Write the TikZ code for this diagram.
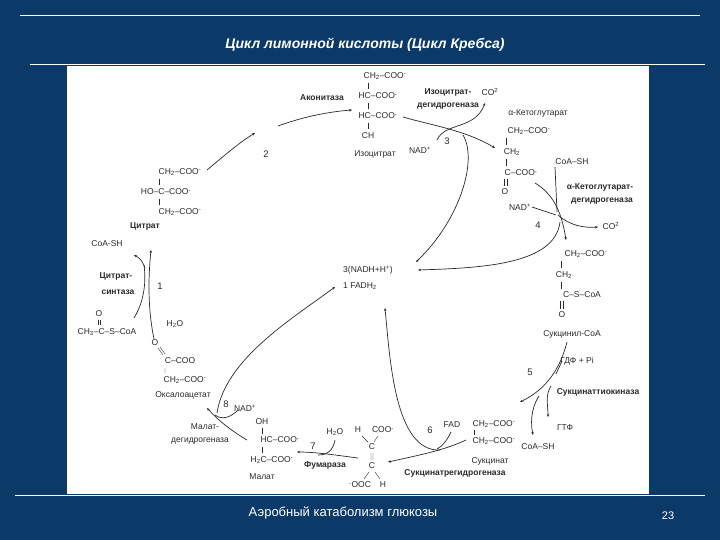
\documentclass[tikz,border=0pt]{standalone}
\usepackage{fontspec}
\setmainfont{Liberation Sans}
\usetikzlibrary{arrows.meta}
\definecolor{bg}{HTML}{0B3A68}
\definecolor{ink}{HTML}{2A2A2A}
\newcommand{\lo}[1]{\textsubscript{#1}}
\newcommand{\hi}[1]{\textsuperscript{#1}}
\tikzset{
  ch/.style={font=\fontsize{8.5}{9}\selectfont, text=ink, inner sep=0pt},
  en/.style={font=\fontsize{8.5}{9}\selectfont\bfseries, text=ink, inner sep=0pt},
  num/.style={font=\fontsize{9.5}{10}\selectfont, text=ink, inner sep=0pt},
  rx/.style={ink, line width=0.7pt, -{Stealth[length=3pt,width=2.5pt]}},
  ln/.style={ink, line width=0.7pt},
  bond/.style={ink, line width=0.4pt}
}
\begin{document}
\begin{tikzpicture}[x=1pt,y=-1pt]
\fill[bg] (0,0) rectangle (720,540);
\useasboundingbox (0,0) rectangle (720,540);
\draw[white,line width=0.8pt] (20,15) -- (700,15);
\draw[white,line width=0.8pt] (30,64) -- (705,64);
\node[white,font=\fontsize{14}{16}\selectfont\bfseries\itshape] (title) at (365,45) {Цикл лимонной кислоты (Цикл Кребса)};
\fill[white] (67,66) rectangle (649,494);
\draw[white,line width=0.8pt] (15,495) -- (705,495);
\node[white,font=\fontsize{13}{15}\selectfont] (foot) at (343,513) {Аэробный катаболизм глюкозы};
\node[white,font=\fontsize{11}{13}\selectfont] (pg) at (668,516) {23};

% Citrate
\node[ch] (c1) at (180,172) {CH\lo{2}--COO\hi{-}};
\node[ch] (c2) at (166,192) {HO--C--COO\hi{-}};
\node[ch] (c3) at (180,212) {CH\lo{2}--COO\hi{-}};
\draw[bond] (159,179)--(159,185) (159,199)--(159,205);
\node[en] (cit) at (145,226) {Цитрат};
\node[ch] (coash1) at (107,244) {CoA-SH};
\node[en] (cs) at (116,276) {Цитрат-};
\node[en] (cs2) at (118,292) {синтаза};
\node[num] (n1) at (160,286) {1};
\node[num] (n2) at (266,154) {2};
% acetyl CoA
\node[ch] (ao) at (99,314) {O};
\draw[bond] (98,320)--(98,325) (100,320)--(100,325);
\node[ch] (acoa) at (107,332) {CH\lo{3}--C--S--CoA};
% oxaloacetate
\node[ch] (h2o1) at (175,324) {H\lo{2}O};
\node[ch] (oo) at (155,343) {O};
\node[ch] (oa1) at (180,361) {C--COO};
\node[ch] (oa2) at (185,380) {CH\lo{2}--COO\hi{-}};
\draw[bond] (158,348)--(163,355) (160,347)--(165,354) (165,368)--(165,373);
\node[ch] (oaa) at (183,395) {Оксалоацетат};
% Isocitrate
\node[en] (acon) at (322,98) {Аконитаза};
\node[ch] (i1) at (385,76) {CH\lo{2}--COO\hi{-}};
\node[ch] (i2) at (378,96) {HC--COO\hi{-}};
\node[ch] (i3) at (378,116) {HC--COO\hi{-}};
\node[ch] (i4) at (368,136) {CH};
\draw[bond] (368,83)--(368,89) (368,103)--(368,109) (368,123)--(368,129);
\node[ch] (iso) at (375,154) {Изоцитрат};
\node[en] (idh1) at (448,92) {Изоцитрат-};
\node[en] (idh2) at (448,106) {дегидрогеназа};
\node[ch] (co21) at (490,92) {CO\hi{2}};
\node[ch] (nad1) at (420,150) {NAD\hi{+}};
\node[num] (n3) at (447,141) {3};
% alpha-KG
\node[ch] (akg) at (538,113) {α-Кетоглутарат};
\node[ch] (k1) at (529,131) {CH\lo{2}--COO\hi{-}};
\node[ch] (k2) at (512,152) {CH\lo{2}};
\node[ch] (k3) at (521,173) {C--COO\hi{-}};
\node[ch] (k4) at (505,192) {O};
\draw[bond] (506,138)--(506,145) (506,159)--(506,166) (504,179)--(504,186) (507,179)--(507,186);
\node[ch] (coash2) at (572,162) {CoA--SH};
\node[en] (kdh1) at (600,187) {α-Кетоглутарат-};
\node[en] (kdh2) at (602,201) {дегидрогеназа};
\node[ch] (nad2) at (520,207) {NAD\hi{+}};
\node[num] (n4) at (538,225) {4};
\node[ch] (co22) at (611,226) {CO\hi{2}};
% Succinyl-CoA
\node[ch] (s1) at (586,254) {CH\lo{2}--COO\hi{-}};
\node[ch] (s2) at (564,275) {CH\lo{2}};
\node[ch] (s3) at (582,295) {C--S--CoA};
\node[ch] (s4) at (562,315) {O};
\draw[bond] (561,261)--(561,268) (561,282)--(561,289) (560,301)--(560,309) (563,301)--(563,309);
\node[ch] (scoa) at (572,334) {Сукцинил-CoA};
\node[ch] (gdp) at (577,361) {ГДФ + Pi};
\node[num] (n5) at (530,372) {5};
\node[en] (stk) at (598,392) {Сукцинаттиокиназа};
\node[ch] (gtp) at (565,428) {ГТФ};
\node[ch] (coash3) at (538,447) {CoA--SH};
% Succinate
\node[ch] (fad) at (452,425) {FAD};
\node[ch] (su1) at (494,424) {CH\lo{2}--COO\hi{-}};
\node[ch] (su2) at (494,441) {CH\lo{2}--COO\hi{-}};
\draw[bond] (474,430)--(474,435);
\node[ch] (succ) at (490,461) {Сукцинат};
\node[en] (sdh) at (455,473) {Сукцинатрегидрогеназа};
\node[num] (n6) at (430,430) {6};
% Fumarate
\node[ch] (fh1) at (358,430) {H};
\node[ch] (fcoo) at (383,430) {COO\hi{-}};
\node[ch] (fc1) at (372,447) {C};
\node[ch] (fc2) at (372,466) {C};
\draw[bond] (362,436)--(368,442) (378,436)--(374,442) (371,453)--(371,460) (373,453)--(373,460) (369,472)--(364,479) (375,472)--(380,479);
\node[ch] (fooc) at (360,485) {\hi{-}OOC};
\node[ch] (fh2) at (383,485) {H};
\node[ch] (h2o2) at (335,432) {H\lo{2}O};
\node[num] (n7) at (313,446) {7};
\node[en] (fum) at (325,465) {Фумараза};
% Malate
\node[ch] (moh) at (262,422) {OH};
\node[ch] (m1) at (280,440) {HC--COO\hi{-}};
\node[ch] (m2) at (272,460) {H\lo{2}C--COO\hi{-}};
\draw[bond] (262,428)--(262,434) (262,447)--(262,453);
\node[ch] (mal) at (262,477) {Малат};
\node[ch] (nad3) at (245,408) {NAD\hi{+}};
\node[num] (n8) at (226,404) {8};
\node[ch] (mdh1) at (205,427) {Малат-};
\node[ch] (mdh2) at (200,441) {дегидрогеназа};
% Center
\node[ch] (nadh) at (368,270) {3(NADH+H\hi{+})};
\node[ch] (fadh) at (360,286) {1 FADH\lo{2}};

% Arrows
\draw[rx] (207,170) .. controls (225,155) and (240,142) .. (255,133);
\draw[rx] (278,126) .. controls (300,118) and (325,112) .. (352,110);
% step 3
\draw[rx] (403,117) .. controls (430,125) and (465,130) .. (495,148);
\draw[rx] (437,140) .. controls (445,122) and (475,130) .. (485,103);
\draw[rx] (463,135) .. controls (478,160) and (460,220) .. (416,262);
% step 4
\draw[rx] (535,183) .. controls (555,195) and (562,215) .. (566,240);
\draw[ln] (555,167) -- (557,212);
\draw[ln] (532,207) -- (556,215);
\draw[rx] (558,215) .. controls (570,226) and (585,228) .. (598,227);
\draw[rx] (560,222) .. controls (555,265) and (480,268) .. (418,270);
% step 5
\draw[rx] (567,342) .. controls (560,370) and (545,390) .. (520,402);
\draw[ln] (562,361) -- (556,374);
\draw[rx] (551,386) .. controls (545,395) and (548,405) .. (548,417);
\draw[rx] (539,396) .. controls (530,410) and (531,425) .. (533,435);
% step 6
\draw[rx] (466,440) .. controls (445,450) and (420,455) .. (388,462);
\draw[ln] (451,432) .. controls (447,440) and (443,446) .. (437,449);
\draw[rx] (440,450) .. controls (395,452) and (390,360) .. (385,308);
% step 7
\draw[rx] (358,458) .. controls (335,455) and (315,452) .. (297,452);
\draw[ln] (335,440) .. controls (333,450) and (328,455) .. (318,455);
% step 8
\draw[rx] (247,440) .. controls (230,430) and (218,420) .. (207,408);
\draw[ln] (238,410) .. controls (230,418) and (222,420) .. (215,415);
\draw[rx] (217,413) .. controls (225,360) and (290,320) .. (335,287);
% step 1
\draw[rx] (154,339) .. controls (148,310) and (148,280) .. (151,250);
\draw[ln] (134,318) .. controls (145,300) and (146,280) .. (144,265);
\draw[rx] (145,268) .. controls (143,262) and (140,258) .. (134,255);
\end{tikzpicture}
\end{document}
